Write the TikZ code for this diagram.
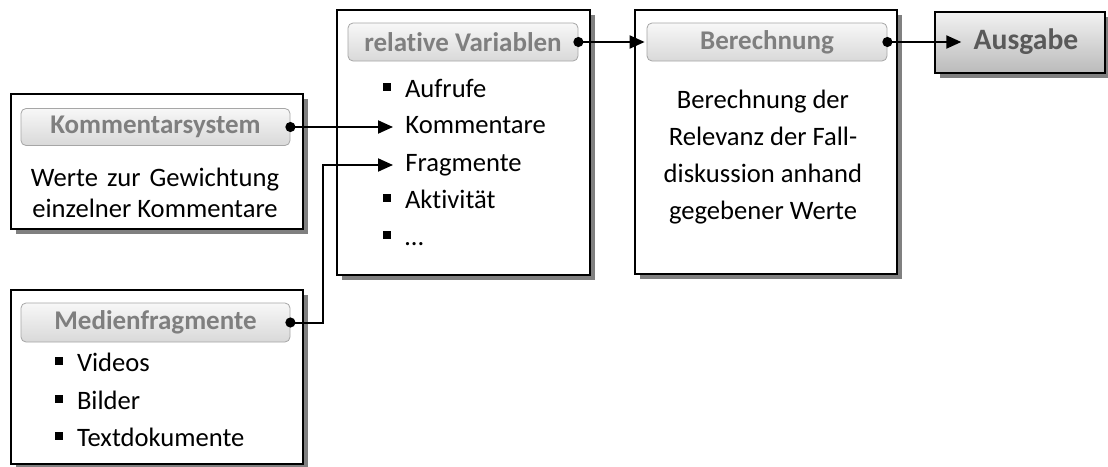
\documentclass[tikz,border=0pt]{standalone}
\usepackage{fontspec}
\setmainfont[Ligatures=NoCommon]{Carlito}
\usetikzlibrary{arrows.meta,shadows}
\definecolor{headtext}{HTML}{7F7F7F}
\definecolor{headline}{HTML}{A6A6A6}
\definecolor{outtext}{HTML}{595959}
\newcommand{\bul}{\rule[3.3pt]{3.8pt}{3.8pt}\hspace{7pt}}

\begin{document}
\begin{tikzpicture}[x=0.5pt, y=-0.5pt,
    font=\fontsize{13.3}{15.5}\selectfont,
    panel/.style={draw=black, line width=1pt, fill=white, inner sep=0pt,
      drop shadow={shadow xshift=2.5pt, shadow yshift=-2.5pt, fill=black!50, opacity=1}},
    head/.style={draw=headline, line width=0.4pt, rounded corners=2.5pt, inner sep=0pt,
      top color=black!3, bottom color=black!15, text=headtext, font=\fontsize{13.5}{15.5}\selectfont\bfseries},
    entry/.style={anchor=west, inner sep=0pt, text height=0.75em, text depth=0.1em},
    link/.style={line width=1pt, {Circle[length=5pt]}-{Triangle[length=7.5pt,width=6.5pt]}, shorten <=-2.5pt}]
      \useasboundingbox (0,0) rectangle (1108,466);

      % boxes
      \node[panel, minimum width=146pt, minimum height=67.5pt] (kommbox) at (157,161.5) {};
      \node[panel, minimum width=146pt, minimum height=87pt] (medienbox) at (157,377) {};
      \node[panel, minimum width=126.5pt, minimum height=132.5pt] (varbox) at (463.5,142.5) {};
      \node[panel, minimum width=131pt, minimum height=132pt] (calcbox) at (766,142) {};
      \node[panel, minimum width=85pt, minimum height=30.5pt, top color=black!5, bottom color=black!27] (outbox) at (1020,42.5) {};

      % headers
      \node[head, minimum width=134.5pt, minimum height=18.5pt] (kommhead) at (155.5,127) {Kommentarsystem};
      \node[head, minimum width=134.5pt, minimum height=19.5pt] (medienhead) at (155.5,322.5) {Medienfragmente};
      \node[head, minimum width=115pt, minimum height=19pt] (varhead) at (463,42) {relative Variablen};
      \node[head, minimum width=120pt, minimum height=19pt] (calchead) at (767,42) {Berechnung};
      \node[inner sep=0pt, text=outtext, font=\fontsize{14.8}{16}\selectfont\bfseries] (outlabel) at (1026,42) {Ausgabe};

      % texts
      \node[align=center, inner sep=0pt] (kommtext) at (155,192.5) {\makebox[124pt][s]{Werte zur Gewichtung}\\einzelner Kommentare};
      \node[align=center, inner sep=0pt, font=\fontsize{13.3}{18.5}\selectfont] (calctext) at (763,157) {Berechnung der\\Relevanz der Fall-\\diskussion anhand\\gegebener Werte};

      \node[entry] (aufrufe) at (383,91) {\bul Aufrufe};
      \node[entry] (kommi) at (405,127) {Kommentare};
      \node[entry] (fragi) at (405,165) {Fragmente};
      \node[entry] (aktiv) at (383,202) {\bul Aktivität};
      \node[entry] (etc) at (383,239) {\bul …};

      \node[entry] (videos) at (55,365) {\bul Videos};
      \node[entry] (bilder) at (55,403) {\bul Bilder};
      \node[entry] (textdok) at (55,440) {\bul Textdokumente};

      % connectors
      \draw[link, shorten >=6pt] (kommhead.east) -- (kommi.west |- kommhead.east);
      \draw[link, shorten >=6pt] (medienhead.east) -- ++(33,0) |- (fragi.west);
      \draw[link, shorten >=1pt] (varhead.east) -- (calchead.west);
      \draw[link, shorten >=6pt] (calchead.east) -- (outlabel.west);
    \end{tikzpicture}
\end{document}
